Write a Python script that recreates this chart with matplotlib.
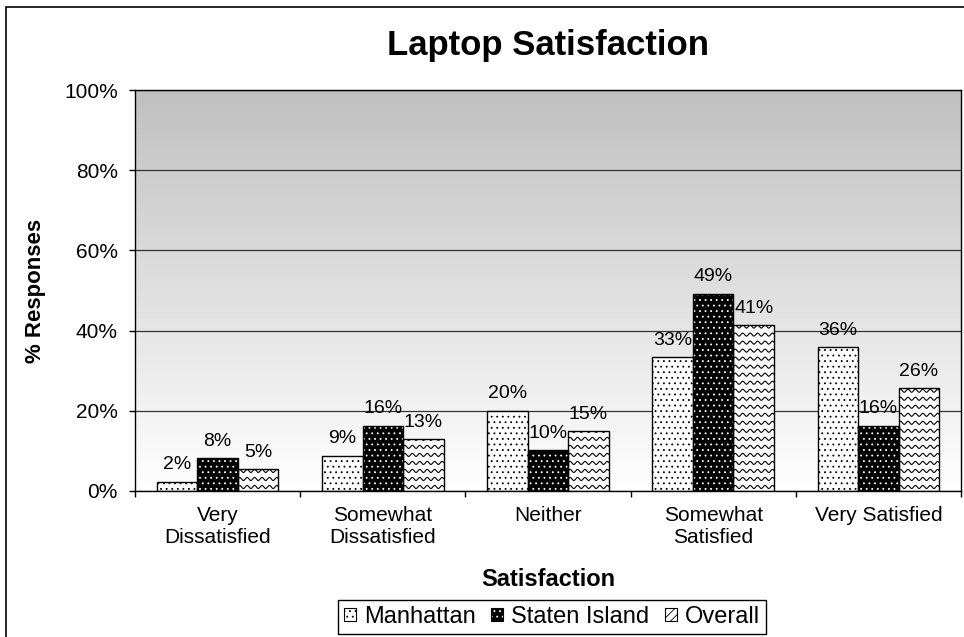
import numpy as np
import matplotlib
matplotlib.use('Agg')
import matplotlib.pyplot as plt
from matplotlib.patches import Patch, Rectangle
from matplotlib.colors import LinearSegmentedColormap
from matplotlib.ticker import PercentFormatter, FixedLocator

plt.rcParams['font.family'] = ['Liberation Sans', 'DejaVu Sans']
plt.rcParams['hatch.linewidth'] = 0.6

# data (percent of responses)
categories = ['Very\nDissatisfied', 'Somewhat\nDissatisfied', 'Neither',
              'Somewhat\nSatisfied', 'Very Satisfied']
manhattan = [2.3, 8.8, 20.0, 33.4, 35.8]
staten_island = [8.2, 16.3, 10.2, 49.2, 16.3]
overall = [5.4, 13.0, 15.0, 41.4, 25.7]
series_names = ['Manhattan', 'Staten Island', 'Overall']

fig = plt.figure(figsize=(9.64, 6.37), dpi=100)
ax = fig.add_axes([135/964, 1 - 491/637, 826/964, 401/637])

x = np.arange(len(categories))
w = 0.245

# gradient plot area background
bg = LinearSegmentedColormap.from_list('bg', ['white', '#c0c0c0'])
ax.imshow(np.linspace(0, 1, 256).reshape(-1, 1), cmap=bg, origin='lower',
          extent=(-0.5, 4.5, 0, 100), aspect='auto', zorder=0)

# Manhattan: white with dots
b1 = ax.bar(x - w, manhattan, w, facecolor='white', edgecolor='black',
            hatch='...', lw=1, zorder=2)
# Staten Island: black with white dots (hatch layer + outline)
ax.bar(x, staten_island, w, facecolor='black', edgecolor='white',
       hatch='...', lw=0, zorder=2)
b2 = ax.bar(x, staten_island, w, fill=False, edgecolor='black', lw=1, zorder=3)
# Overall: white with waves
b3 = ax.bar(x + w, overall, w, facecolor='white', edgecolor='black',
            lw=1, zorder=2)
for rect in b3:
    x0, bw, h = rect.get_x(), rect.get_width(), rect.get_height()
    xs = np.linspace(x0, x0 + bw, 300)
    for y0 in np.arange(1.0, h + 1.0, 2.0):
        ys = y0 + 0.38 * np.sin(2 * np.pi * (xs - x0) / 0.045)
        ln, = ax.plot(xs, ys, color='black', lw=0.8, zorder=2.5)
        ln.set_clip_path(rect)

for cont in (b1, b2, b3):
    ax.bar_label(cont, fmt='%.0f%%', padding=6, fontsize=14, zorder=4)

ax.set_xlim(-0.5, 4.5)
ax.set_ylim(0, 100)
ax.set_yticks(np.arange(0, 101, 20))
ax.yaxis.set_major_formatter(PercentFormatter(xmax=100, decimals=0))
ax.set_xticks(x)
ax.set_xticklabels(categories)
ax.xaxis.set_minor_locator(FixedLocator(np.arange(-0.5, 4.6, 1.0)))
ax.tick_params(axis='x', which='major', length=0, pad=11, labelsize=15)
ax.tick_params(axis='x', which='minor', length=4.5, width=1, direction='out')
ax.tick_params(axis='y', length=4.5, width=1, pad=8, labelsize=15)

ax.set_axisbelow(True)
ax.yaxis.grid(True, color='#333333', lw=0.9)
for s in ax.spines.values():
    s.set_color('black')
    s.set_linewidth(1)

fig.text(548/964, 1 - 55/637, 'Laptop Satisfaction', fontsize=25,
         fontweight='bold', ha='center', va='baseline')
fig.text(548/964, 1 - 586/637, 'Satisfaction', fontsize=17,
         fontweight='bold', ha='center', va='baseline')
fig.text(35/964, 1 - 291/637, '% Responses', fontsize=16, fontweight='bold',
         rotation=90, ha='center', va='center')

handles = [
    Patch(facecolor='white', edgecolor='black', hatch='...', lw=0.8),
    (Patch(facecolor='black', edgecolor='white', hatch='...', lw=0),
     Patch(fill=False, edgecolor='black', lw=0.8)),
    Patch(facecolor='white', edgecolor='black', hatch='////', lw=0.8),
]
leg = fig.legend(handles, series_names, loc='center',
                 bbox_to_anchor=(552/964, 1 - 617/637), ncol=3, fontsize=17,
                 frameon=True, fancybox=False, shadow=False, framealpha=1,
                 edgecolor='black', handlelength=0.5, handleheight=0.5,
                 handletextpad=0.35, columnspacing=0.65, borderpad=0.25)
leg.get_frame().set_linewidth(1)

# outer chart border (cropped at right and bottom)
fig.add_artist(Rectangle((6/964, -0.05), 1.0, (1 - 7/637) + 0.05,
                         transform=fig.transFigure, fill=False,
                         edgecolor='black', lw=1.2))

fig.savefig('out.png', dpi=100)
